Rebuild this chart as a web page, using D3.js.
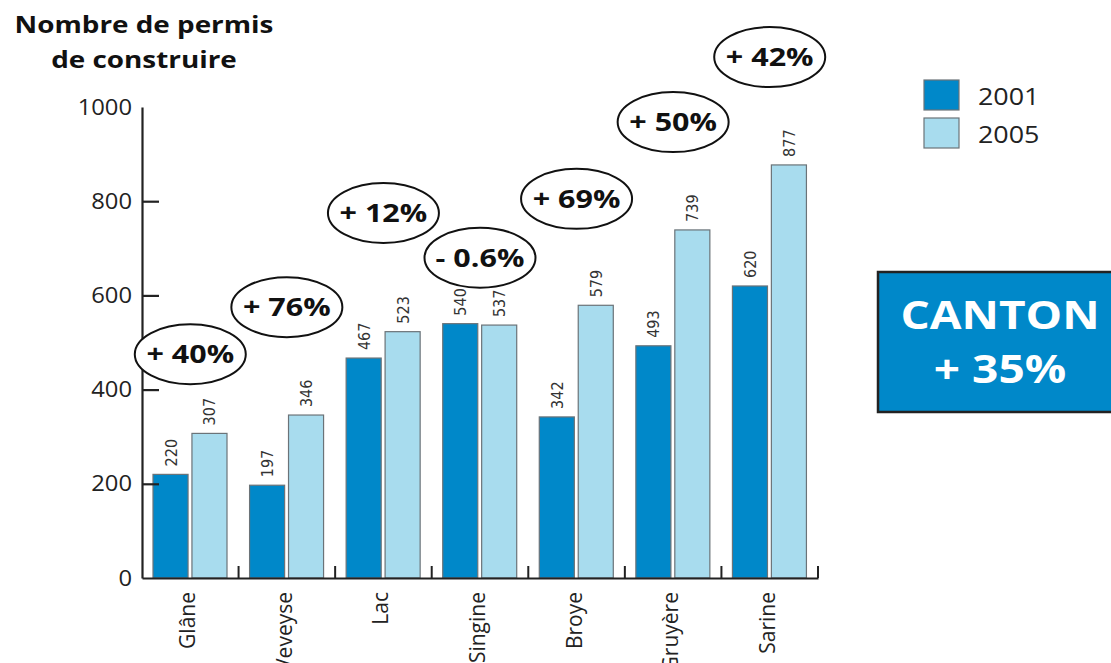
<!DOCTYPE html>
<html><head><meta charset="utf-8">
<script src="https://cdn.jsdelivr.net/npm/d3@7"></script>
<style>body{margin:0;background:#fff}svg{display:block}</style>
</head><body>
<svg id="c" width="1111" height="663"></svg>
<script>
const categories = ["Glâne","Veveyse","Lac","Singine","Broye","Gruyère","Sarine"];
const series = ["2001","2005"];
const values2001 = [220,197,467,540,342,493,620];
const values2005 = [307,346,523,537,579,739,877];
const changeLabels = ["+ 40%","+ 76%","+ 12%","- 0.6%","+ 69%","+ 50%","+ 42%"];
const annotationLevels = [475,575,775,680,805,968,1106];
const yTicks = [0,200,400,600,800,1000];
const titleLines = ["Nombre de permis","de construire"];
const cantonLines = ["CANTON","+ 35%"];
const colors = {"2001":"#0088c9","2005":"#a8dcee"};

const svg = d3.select("#c");
const font = "'Open Sans','Noto Sans',sans-serif";
function stretch(sel, f){
  sel.each(function(){
    const w = this.getComputedTextLength();
    d3.select(this).attr("textLength", w*f).attr("lengthAdjust","spacingAndGlyphs");
  });
}
const x0 = d3.scaleBand().domain(categories).range([142,818]).padding(0);
const x1 = d3.scaleBand().domain(series).range([11,85]).paddingInner(0.1);
const y = d3.scaleLinear().domain([0,1000]).range([578,107]);

// title
svg.append("g").selectAll("text").data(titleLines).join("text")
  .attr("x",144).attr("y",(d,i)=>33+i*35).attr("text-anchor","middle")
  .attr("font-family",font).attr("font-weight","bold").attr("font-size",24).attr("fill","#111")
  .text(d=>d).call(stretch,1.16);

// bars
const rows = categories.map((c,i)=>({c, vals:[{s:"2001",v:values2001[i]},{s:"2005",v:values2005[i]}]}));
const g = svg.append("g");
const grp = g.selectAll("g.grp").data(rows).join("g").attr("transform",d=>`translate(${x0(d.c)},0)`);
grp.selectAll("rect").data(d=>d.vals).join("rect")
  .attr("x",d=>x1(d.s)).attr("width",x1.bandwidth())
  .attr("y",d=>y(d.v)).attr("height",d=>y(0)-y(d.v))
  .attr("fill",d=>colors[d.s]).attr("stroke","#6b7378").attr("stroke-width",1.2);
grp.selectAll("text.val").data(d=>d.vals).join("text").attr("class","val")
  .attr("transform",d=>`translate(${x1(d.s)+x1.bandwidth()/2+6},${y(d.v)-8}) rotate(-90)`)
  .attr("font-family","'Liberation Sans Narrow','DejaVu Sans Condensed',sans-serif")
  .attr("font-size",16).attr("fill","#333").text(d=>d.v);

// y axis
const yAxis = d3.axisLeft(y).tickValues(yTicks).tickFormat(d3.format("d"))
  .tickSizeInner(-17).tickSizeOuter(0).tickPadding(10);
const ya = svg.append("g").attr("transform","translate(142,0)").call(yAxis);
ya.select(".domain").attr("stroke","#222").attr("stroke-width",2.2);
ya.selectAll(".tick line").attr("stroke","#222").attr("stroke-width",2.2)
  .filter(d=>d===0||d===1000).remove();
ya.selectAll(".tick text").attr("font-family",font).attr("font-size",22).attr("fill","#222")
  .call(stretch,1.08);

// x axis
const xAxis = d3.axisBottom(x0).tickSize(0).tickPadding(0).tickFormat("");
const xa = svg.append("g").attr("transform","translate(0,578)").call(xAxis);
xa.select(".domain").attr("stroke","#222").attr("stroke-width",2.2);
xa.selectAll(".tick").remove();
const bounds = categories.slice(1).map(c=>x0(c)).concat([x0.range()[1]]);
xa.selectAll("line.sep").data(bounds).join("line").attr("class","sep")
  .attr("x1",d=>d).attr("x2",d=>d).attr("y1",0).attr("y2",-12)
  .attr("stroke","#222").attr("stroke-width",2);
xa.selectAll("text.cat").data(categories).join("text").attr("class","cat")
  .attr("transform",d=>`translate(${x0(d)+x0.bandwidth()/2+5},14) rotate(-90)`)
  .attr("text-anchor","end").attr("font-family",font).attr("font-size",21).attr("fill","#222")
  .text(d=>d);

// annotations
const ann = svg.append("g").selectAll("g").data(categories).join("g")
  .attr("transform",(d,i)=>`translate(${x0(d)+x0.bandwidth()/2},${y(annotationLevels[i])})`);
ann.append("ellipse").attr("rx",55.5).attr("ry",30).attr("fill","#fff").attr("stroke","#111").attr("stroke-width",2);
ann.append("text").attr("text-anchor","middle").attr("dy","0.36em")
  .attr("font-family",font).attr("font-weight","bold").attr("font-size",25).attr("fill","#111")
  .text((d,i)=>changeLabels[i]).call(stretch,1.22);

// legend
const leg = svg.append("g").selectAll("g").data(series).join("g")
  .attr("transform",(d,i)=>`translate(924,${80+i*38})`);
leg.append("rect").attr("width",35).attr("height",30).attr("fill",d=>colors[d]).attr("stroke","#6b7378").attr("stroke-width",1.2);
leg.append("text").attr("x",54).attr("y",25).attr("font-family",font).attr("font-size",24).attr("fill","#222")
  .text(d=>d).call(stretch,1.12);

// canton box
const cb = svg.append("g");
cb.append("rect").attr("x",878).attr("y",272).attr("width",240).attr("height",140)
  .attr("fill","#0088c9").attr("stroke","#222").attr("stroke-width",2.5);
cb.selectAll("text").data(cantonLines).join("text")
  .attr("x",1000).attr("y",(d,i)=>329+i*54).attr("text-anchor","middle")
  .attr("font-family",font).attr("font-weight","bold").attr("font-size",39).attr("fill","#fff")
  .text(d=>d).call(stretch,1.18);
</script>
</body></html>
